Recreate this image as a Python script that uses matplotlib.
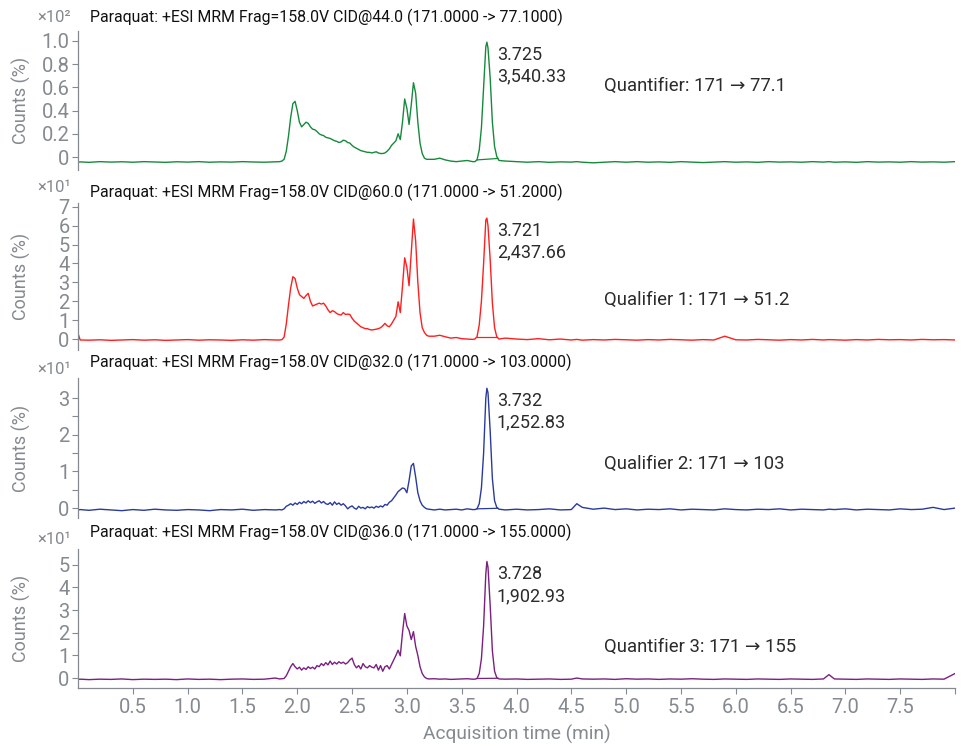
import numpy as np
import matplotlib
matplotlib.use("Agg")
import matplotlib.pyplot as plt

plt.rcParams['font.family'] = ['Roboto', 'DejaVu Sans']

# acquisition times (min), shared by all four transitions
time_min = [
    0.00, 0.02, 0.10, 0.20, 0.30, 0.40, 0.50, 0.60, 0.70, 0.80, 0.90, 1.00, 1.10, 1.20, 1.30, 1.40,
    1.50, 1.60, 1.70, 1.80,
    1.84, 1.86, 1.88, 1.90, 1.92, 1.94, 1.96, 1.98, 2.00, 2.02, 2.04, 2.06, 2.08, 2.10, 2.12, 2.14,
    2.16, 2.18, 2.20, 2.22, 2.24, 2.26, 2.28, 2.30, 2.32, 2.34, 2.36, 2.38, 2.40, 2.42, 2.44, 2.46,
    2.48, 2.50, 2.52, 2.54, 2.56, 2.58, 2.60, 2.62, 2.64, 2.66, 2.68, 2.70, 2.72, 2.74, 2.76, 2.78,
    2.80, 2.82, 2.84, 2.86, 2.88, 2.90, 2.92, 2.94, 2.96, 2.98, 3.00, 3.02, 3.04, 3.06, 3.08, 3.10,
    3.12, 3.14, 3.16, 3.18, 3.20,
    3.25, 3.30, 3.35, 3.40, 3.45, 3.50, 3.55, 3.60,
    3.62, 3.64, 3.66, 3.68, 3.70, 3.72, 3.73, 3.74, 3.76, 3.78, 3.80, 3.82, 3.84,
    3.90, 4.00, 4.10, 4.20, 4.30, 4.40, 4.50, 4.55, 4.60, 4.70, 4.80, 4.90, 5.00, 5.10, 5.20, 5.30,
    5.40, 5.50, 5.60, 5.70, 5.80, 5.90, 6.00, 6.10, 6.20, 6.30, 6.40, 6.50, 6.60, 6.70, 6.80, 6.85,
    6.90, 7.00, 7.10, 7.20, 7.30, 7.40, 7.50, 7.60, 7.70, 7.80, 7.90, 8.00,
]

# 171 -> 77.1 (x10^2)
quant_77 = [
    -0.045, -0.042, -0.046, -0.040, -0.044, -0.041, -0.045, -0.040, -0.043, -0.046, -0.041, -0.044,
    -0.040, -0.045, -0.042, -0.044, -0.040, -0.043, -0.045, -0.042,
    -0.040, -0.035, -0.020, 0.050, 0.180, 0.340, 0.460, 0.480, 0.400, 0.300, 0.260, 0.280, 0.300,
    0.290, 0.260, 0.240, 0.235, 0.220, 0.200, 0.190, 0.185, 0.170, 0.165, 0.160, 0.150, 0.140,
    0.135, 0.125, 0.130, 0.145, 0.140, 0.125, 0.120, 0.100, 0.085, 0.075, 0.065, 0.055, 0.050,
    0.045, 0.040, 0.040, 0.035, 0.040, 0.045, 0.035, 0.030, 0.030, 0.035, 0.050, 0.070, 0.100,
    0.120, 0.140, 0.200, 0.150, 0.300, 0.500, 0.420, 0.280, 0.450, 0.640, 0.550, 0.300, 0.120,
    0.030, -0.010, -0.020, -0.020,
    -0.020, -0.010, -0.025, -0.035, -0.040, -0.035, -0.030, -0.040,
    -0.040, -0.025, 0.060, 0.250, 0.600, 0.950, 0.990, 0.940, 0.680, 0.300, 0.090, 0.005, -0.030,
    -0.035, -0.040, -0.045, -0.040, -0.046, -0.042, -0.044, -0.040, -0.045, -0.050, -0.045, -0.040,
    -0.045, -0.040, -0.045, -0.042, -0.046, -0.040, -0.044, -0.048, -0.044, -0.040, -0.045, -0.042,
    -0.046, -0.040, -0.044, -0.042, -0.045, -0.040, -0.044, -0.040, -0.045, -0.042, -0.046, -0.040,
    -0.044, -0.042, -0.045, -0.040, -0.044, -0.042, -0.045, -0.040,
]

# 171 -> 51.2 (x10^1)
qual_51 = [
    0.30, -0.05, -0.06, -0.04, -0.07, -0.05, -0.03, -0.06, -0.04, -0.07, -0.05, -0.03, -0.06, -0.04,
    -0.05, -0.07, -0.04, -0.06, -0.03, -0.05,
    -0.05, -0.03, 0.10, 0.80, 1.80, 2.70, 3.30, 3.20, 2.70, 2.35, 2.25, 2.15, 2.30, 2.42, 2.00, 1.75,
    1.80, 1.85, 1.90, 1.85, 1.90, 1.75, 1.55, 1.40, 1.50, 1.45, 1.35, 1.30, 1.27, 1.40, 1.30, 1.32,
    1.30, 1.10, 0.95, 0.85, 0.75, 0.65, 0.60, 0.55, 0.55, 0.50, 0.48, 0.50, 0.52, 0.55, 0.60, 0.70,
    0.83, 0.70, 0.65, 0.80, 1.00, 1.20, 1.97, 1.40, 2.80, 4.30, 3.80, 2.82, 4.60, 6.35, 5.20, 3.00,
    1.40, 0.60, 0.35, 0.20, 0.15,
    0.15, 0.20, 0.12, 0.05, 0.08, 0.02, 0.00, -0.02,
    0.00, 0.12, 0.75, 2.00, 4.00, 6.30, 6.40, 6.00, 4.20, 1.90, 0.60, 0.12, 0.00,
    0.05, 0.00, -0.03, 0.02, -0.04, 0.00, -0.05, -0.02, -0.06, -0.03, -0.05, -0.02, -0.04, -0.06,
    -0.03, -0.05, -0.02, -0.04, -0.06, -0.03, -0.05, 0.15, -0.04, -0.05, -0.02, -0.04, -0.06, -0.03,
    -0.05, -0.02, -0.05, -0.03, -0.04, -0.06, -0.03, -0.05, -0.02, -0.04, -0.03, -0.05, -0.02, -0.04,
    -0.03, -0.05,
]

# 171 -> 103 (x10^1)
qual_103 = [
    -0.05, -0.04, -0.06, -0.03, -0.05, -0.07, -0.04, -0.06, -0.03, -0.05, -0.06, -0.04, -0.05, -0.07,
    -0.04, -0.05, -0.03, -0.06, -0.04, -0.05,
    -0.04, -0.05, -0.02, 0.05, 0.08, 0.12, 0.08, 0.14, 0.10, 0.16, 0.12, 0.18, 0.14, 0.20, 0.15, 0.19,
    0.13, 0.17, 0.20, 0.14, 0.18, 0.12, 0.10, 0.15, 0.08, 0.17, 0.10, 0.14, 0.08, 0.12, 0.06, -0.02,
    0.03, 0.06, 0.00, -0.03, 0.05, 0.00, 0.02, -0.02, 0.04, 0.01, 0.03, 0.00, 0.05, 0.02, 0.06, 0.03,
    0.10, 0.08, 0.16, 0.20, 0.28, 0.36, 0.45, 0.50, 0.55, 0.53, 0.42, 0.75, 1.15, 1.22, 0.85, 0.42,
    0.20, 0.08, 0.02, -0.02, -0.03,
    -0.05, -0.03, -0.05, -0.04, -0.03, -0.05, -0.02, -0.04,
    -0.04, -0.02, 0.12, 0.55, 1.50, 3.00, 3.27, 3.15, 2.10, 0.80, 0.20, 0.02, -0.03,
    -0.05, -0.03, -0.05, -0.04, -0.02, -0.05, -0.04, 0.12, 0.02, -0.03, 0.00, -0.04, -0.02, -0.05,
    -0.03, -0.04, -0.02, -0.05, -0.03, -0.04, -0.05, -0.02, -0.04, -0.05, -0.03, -0.04, -0.02, -0.05,
    -0.03, -0.04, -0.05, -0.03, -0.04, -0.02, -0.05, -0.03, -0.04, -0.05, -0.02, -0.04, -0.03, 0.02,
    -0.04, 0.00,
]

# 171 -> 155 (x10^1)
quant_155 = [
    -0.06, -0.05, -0.07, -0.05, -0.06, -0.04, -0.07, -0.05, -0.06, -0.05, -0.07, -0.04, -0.06, -0.05,
    -0.07, -0.05, -0.04, -0.06, -0.05, 0.00,
    -0.04, -0.03, -0.02, 0.10, 0.30, 0.50, 0.64, 0.50, 0.40, 0.48, 0.35, 0.45, 0.38, 0.50, 0.42, 0.48,
    0.40, 0.55, 0.50, 0.64, 0.55, 0.68, 0.58, 0.75, 0.60, 0.70, 0.62, 0.72, 0.65, 0.70, 0.62, 0.68,
    0.80, 0.88, 0.60, 0.45, 0.55, 0.40, 0.64, 0.50, 0.45, 0.55, 0.48, 0.45, 0.60, 0.35, 0.55, 0.30,
    0.50, 0.55, 0.40, 0.60, 0.80, 1.00, 1.23, 0.98, 2.00, 2.85, 2.30, 2.10, 1.70, 2.05, 1.40, 1.00,
    0.50, 0.20, 0.05, -0.02, -0.04,
    -0.03, -0.05, -0.04, -0.06, -0.05, -0.04, -0.03, -0.05,
    -0.05, -0.02, 0.20, 0.85, 2.30, 4.60, 5.15, 4.90, 3.20, 1.20, 0.30, 0.02, -0.04,
    -0.05, -0.04, -0.06, -0.05, -0.04, -0.06, -0.05, 0.00, -0.04, -0.05, -0.04, -0.06, -0.03, -0.05,
    -0.04, -0.06, -0.04, -0.05, -0.03, -0.05, -0.06, -0.04, -0.05, -0.06, -0.04, -0.05, -0.06, -0.04,
    -0.05, -0.06, -0.04, 0.15, -0.04, -0.05, -0.06, -0.04, -0.05, -0.06, -0.04, -0.05, -0.06, -0.04,
    -0.05, 0.20,
]

titles = [
    "Paraquat: +ESI MRM Frag=158.0V CID@44.0 (171.0000 -> 77.1000)",
    "Paraquat: +ESI MRM Frag=158.0V CID@60.0 (171.0000 -> 51.2000)",
    "Paraquat: +ESI MRM Frag=158.0V CID@32.0 (171.0000 -> 103.0000)",
    "Paraquat: +ESI MRM Frag=158.0V CID@36.0 (171.0000 -> 155.0000)",
]
ion_labels = ["Quantifier: 171 → 77.1", "Qualifier 1: 171 → 51.2",
              "Qualifier 2: 171 → 103", "Quantifier 3: 171 → 155"]
exponents = ["×10²", "×10¹", "×10¹", "×10¹"]
rt_labels = ["3.725", "3.721", "3.732", "3.728"]
area_labels = ["3,540.33", "2,437.66", "1,252.83", "1,902.93"]
int_start = [3.64, 3.64, 3.64, 3.64]   # integration window (min)
int_end = [3.83, 3.82, 3.83, 3.83]
traces = [quant_77, qual_51, qual_103, quant_155]
colors = ["#168a3c", "#ff1f1f", "#2a3b9c", "#7b1f80"]

# layout (pixels): axes top/bottom, y limits, y ticks, label height
W, H = 964, 748
ax_px = [(31, 170), (203, 350), (378, 518), (549, 688)]
ylims = [(-0.112, 1.086), (-0.58, 7.2), (-0.27, 3.55), (-0.44, 5.70)]
yticks = [[0, 0.2, 0.4, 0.6, 0.8, 1.0], list(range(8)), [0, 1, 2, 3], list(range(6))]
ytick_labels = [["0", "0.2", "0.4", "0.6", "0.8", "1.0"], [str(i) for i in range(8)],
                ["0", "1", "2", "3"], [str(i) for i in range(6)]]
ion_y = [0.61, 2.07, 1.2, 1.36]
title_py = [17, 192, 362, 532]
exp_py = [18, 187, 370, 539]

gray = "#858a90"
dark = "#2b2b2b"
left_px, right_px = 78, 955

fig = plt.figure(figsize=(W / 100, H / 100), dpi=100)

t = np.array(time_min)
for i in range(4):
    top, bot = ax_px[i]
    ax = fig.add_axes([left_px / W, 1 - bot / H, (right_px - left_px) / W, (bot - top) / H])
    y = np.array(traces[i])
    ax.plot(t, y, color=colors[i], lw=1.0)
    # integration baseline under the main peak
    xb = [int_start[i], int_end[i]]
    ax.plot(xb, np.interp(xb, t, y), color=colors[i], lw=0.9)

    win = (t >= int_start[i]) & (t <= int_end[i])
    k = np.flatnonzero(win)[np.argmax(y[win])]
    ax.annotate(rt_labels[i] + "\n" + area_labels[i], xy=(t[k], y[k]), xytext=(10, -4),
                textcoords="offset pixels", ha="left", va="top", fontsize=13,
                color=dark, linespacing=1.25)
    ax.text(4.8, ion_y[i], ion_labels[i], fontsize=13.3, color=dark, va="center", ha="left")

    ax.set_xlim(0, 8.0)
    ax.set_ylim(*ylims[i])
    ax.set_yticks(yticks[i])
    ax.set_yticklabels(ytick_labels[i])
    if i == 2:
        ax.set_yticks([0.5, 1.5, 2.5], minor=True)
        ax.tick_params(axis="y", which="minor", length=4, width=0.8, color=gray)
    ax.tick_params(axis="y", length=4, width=0.8, color=gray, labelcolor=gray,
                   labelsize=14.5, pad=2)
    ax.set_ylabel("Counts (%)", color=gray, fontsize=13)
    ax.yaxis.set_label_coords(-(left_px - 31) / (right_px - left_px), 0.5)
    for s in ["top", "right"]:
        ax.spines[s].set_visible(False)
    ax.spines["left"].set_color(gray)
    ax.spines["left"].set_linewidth(0.9)
    ax.patch.set_alpha(0)

    if i < 3:
        ax.spines["bottom"].set_visible(False)
        ax.set_xticks([])
    else:
        ax.spines["bottom"].set_color(gray)
        ax.spines["bottom"].set_linewidth(0.9)
        xt = [0.5, 1.0, 1.5, 2.0, 2.5, 3.0, 3.5, 4.0, 4.5, 5.0, 5.5, 6.0, 6.5, 7.0, 7.5, 8.0]
        ax.set_xticks(xt)
        ax.set_xticklabels([f"{v:.1f}" for v in xt[:-1]] + [""])
        ax.tick_params(axis="x", length=4, width=0.8, color=gray, labelcolor=gray,
                       labelsize=14.5, pad=3)
        ax.set_xlabel("Acquisition time (min)", color=gray, fontsize=13.8, labelpad=6)

    fig.text(90 / W, 1 - title_py[i] / H, titles[i], fontsize=11.4, color="#111111",
             ha="left", va="center")
    fig.text(71 / W, 1 - exp_py[i] / H, exponents[i], fontsize=12, color=gray,
             ha="right", va="center")

fig.savefig("out.png", dpi=100)
